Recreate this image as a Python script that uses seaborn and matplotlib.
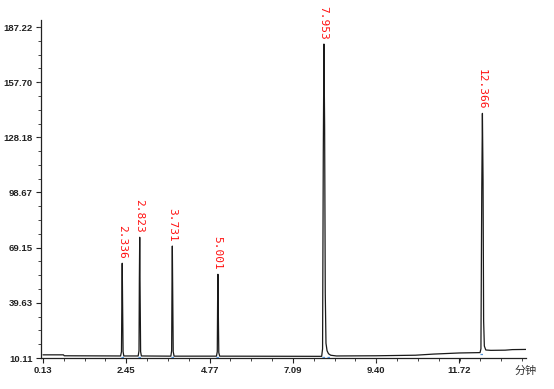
import matplotlib
matplotlib.use("Agg")
import matplotlib.pyplot as plt
from matplotlib.ticker import FixedLocator, AutoMinorLocator, FuncFormatter
import seaborn as sns
import pandas as pd

# ---- data ----
peak_times = [2.336, 2.823, 3.731, 5.001, 7.953, 12.366]
peak_heights = [60.8, 74.7, 70.0, 54.9, 178.1, 141.0]
peak_labels = ["2.336", "2.823", "3.731", "5.001", "7.953", "12.366"]
peak_base_start = [2.29, 2.78, 3.69, 4.96, 7.89, 12.30]
peak_base_end = [2.38, 2.87, 3.78, 5.05, 8.12, 12.45]
peak_base_level = [11.2, 11.2, 11.1, 11.1, 11.0, 13.0]

trace_time = [0.13, 0.70, 0.72, 2.29, 2.315, 2.326, 2.336, 2.346, 2.36, 2.38,
              2.78, 2.803, 2.813, 2.823, 2.833, 2.848, 2.87,
              3.69, 3.712, 3.722, 3.731, 3.741, 3.756, 3.78,
              4.96, 4.983, 4.992, 5.001, 5.011, 5.025, 5.05,
              7.89, 7.915, 7.935, 7.953, 7.972, 7.99, 8.01, 8.04, 8.08, 8.14, 8.30,
              9.40, 10.50, 11.00, 11.72, 12.30,
              12.325, 12.348, 12.366, 12.384, 12.40, 12.42, 12.46, 12.60,
              13.00, 13.20, 13.58]
trace_signal = [11.8, 11.8, 11.3, 11.2, 13.5, 42.0, 60.8, 40.0, 13.5, 11.2,
                11.2, 14.0, 52.0, 74.7, 48.0, 13.5, 11.2,
                11.1, 14.0, 50.0, 70.0, 47.0, 13.5, 11.1,
                11.1, 13.5, 40.0, 54.9, 36.0, 13.0, 11.1,
                11.0, 15.0, 120.0, 178.1, 135.0, 45.0, 18.0, 14.0, 12.4, 11.6, 11.2,
                11.3, 11.6, 12.2, 12.8, 13.0,
                15.0, 100.0, 141.0, 105.0, 30.0, 16.5, 14.4, 14.2,
                14.3, 14.6, 14.7]

y_ticks = [10.11, 39.63, 69.15, 98.67, 128.18, 157.70, 187.22]
x_ticks = [0.13, 2.45, 4.77, 7.09, 9.40, 11.72]
x_unit = "分钟"

df = pd.DataFrame({"time": trace_time, "signal": trace_signal})

sns.set_theme(style="ticks")
plt.rcParams["font.family"] = ["Liberation Sans", "DejaVu Sans"]

fig = plt.figure(figsize=(5.54, 3.89), dpi=100)
fig.patch.set_facecolor("white")
ax = fig.add_axes([41 / 554, 31 / 389, (526 - 41) / 554, (358 - 20) / 389])
ax.set_facecolor("white")

sns.lineplot(data=df, x="time", y="signal", ax=ax, sort=False, estimator=None,
             color="#1a1a1a", linewidth=0.9)

# small blue baseline dashes under each peak
for s, e, b in zip(peak_base_start, peak_base_end, peak_base_level):
    ax.plot([s, e], [b - 0.6, b - 0.6], color="#4f8fd6", lw=0.9,
            dashes=(2, 2), zorder=3)

# red rotated retention-time labels
for t, h, lab in zip(peak_times, peak_heights, peak_labels):
    ax.annotate(lab, xy=(t, h), xytext=(-0.3, 3), textcoords="offset points",
                rotation=270, ha="center", va="bottom", color="#ff1010",
                fontsize=8, family="DejaVu Sans Mono")

ax.set_xlim(0.074, 13.58)
ax.set_ylim(10.11, 190.97)

ax.xaxis.set_major_locator(FixedLocator(x_ticks))
ax.yaxis.set_major_locator(FixedLocator(y_ticks))
ax.xaxis.set_minor_locator(AutoMinorLocator(4))
ax.yaxis.set_minor_locator(AutoMinorLocator(4))
ax.xaxis.set_major_formatter(FuncFormatter(lambda v, p: f"{v:.2f}"))
ax.yaxis.set_major_formatter(FuncFormatter(lambda v, p: f"{v:.2f}"))

for lab in ax.get_xticklabels() + ax.get_yticklabels():
    lab.set_fontweight("bold")
ax.tick_params(axis="both", which="major", length=3.5, width=0.8,
               labelsize=6.8, colors="#222222", pad=2.5, direction="out")
ax.tick_params(axis="both", which="minor", length=2, width=0.7,
               colors="#444444", direction="out")
for lab in ax.get_xticklabels() + ax.get_yticklabels():
    lab.set_color("#222222")

sns.despine(ax=ax, top=True, right=True)
for sp in ["left", "bottom"]:
    ax.spines[sp].set_color("#222222")
    ax.spines[sp].set_linewidth(0.9)

ax.set_xlabel("")
ax.set_ylabel("")
ax.grid(False)

ax.text(1.0, -0.022, x_unit, transform=ax.transAxes, ha="center", va="top",
        fontsize=8, color="#333333",
        family=["Noto Sans CJK SC", "DejaVu Sans"])

fig.savefig("out.png", dpi=100, facecolor="white")
